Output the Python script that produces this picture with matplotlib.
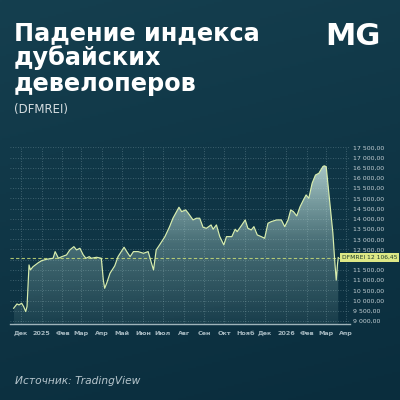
import numpy as np
import matplotlib
matplotlib.use("Agg")
import matplotlib.pyplot as plt
import matplotlib.dates as mdates
from matplotlib.patches import Polygon
from matplotlib.colors import LinearSegmentedColormap
import datetime as dt

# ---------------- data ----------------
dates = [
    "2024-11-20", "2024-11-25", "2024-11-28", "2024-12-02", "2024-12-05", "2024-12-08", "2024-12-10",
    "2024-12-13", "2024-12-15", "2024-12-19", "2024-12-27", "2025-01-01", "2025-01-08", "2025-01-18",
    "2025-01-21", "2025-01-26", "2025-01-31", "2025-02-07", "2025-02-12", "2025-02-18", "2025-02-22",
    "2025-02-27", "2025-03-04", "2025-03-08", "2025-03-13", "2025-03-16", "2025-03-24", "2025-03-31",
    "2025-04-03", "2025-04-05", "2025-04-08", "2025-04-13", "2025-04-20", "2025-04-25", "2025-05-04",
    "2025-05-08", "2025-05-13", "2025-05-18", "2025-05-25", "2025-06-02", "2025-06-09", "2025-06-14",
    "2025-06-17", "2025-06-21", "2025-06-26", "2025-07-04", "2025-07-11", "2025-07-16", "2025-07-25",
    "2025-07-29", "2025-08-04", "2025-08-08", "2025-08-15", "2025-08-20", "2025-08-25", "2025-08-30",
    "2025-09-04", "2025-09-11", "2025-09-14", "2025-09-19", "2025-09-24", "2025-09-30", "2025-10-04",
    "2025-10-12", "2025-10-17", "2025-10-20", "2025-10-27", "2025-11-01", "2025-11-05", "2025-11-10",
    "2025-11-14", "2025-11-19", "2025-11-25", "2025-11-30", "2025-12-05", "2025-12-10", "2025-12-18",
    "2025-12-25", "2025-12-30", "2026-01-04", "2026-01-08", "2026-01-12", "2026-01-17", "2026-01-22",
    "2026-01-27", "2026-01-31", "2026-02-04", "2026-02-09", "2026-02-14", "2026-02-19", "2026-02-22",
    "2026-02-25", "2026-02-27", "2026-03-02", "2026-03-04", "2026-03-08", "2026-03-12", "2026-03-15",
    "2026-03-17", "2026-03-19", "2026-03-20",
]
values = [
    9622, 9833, 9784, 9867, 9700, 9460, 9700,
    11744, 11500, 11660, 11857, 11955, 12020, 12070,
    12397, 12070, 12150, 12234, 12480, 12640, 12480,
    12560, 12234, 12070, 12150, 12070, 12120, 12070,
    11009, 10600, 10845, 11337, 11695, 12150, 12611,
    12397, 12150, 12397, 12397, 12315, 12397, 11827,
    11500, 12480, 12724, 13130, 13620, 14032, 14570,
    14355, 14440, 14277, 13950, 14032, 14032, 13590,
    13540, 13704, 13493, 13704, 13130, 12724, 13130,
    13130, 13493, 13375, 13704, 13949, 13540, 13460,
    13620, 13214, 13130, 13050, 13787, 13868, 13949,
    13949, 13620, 13949, 14440, 14355, 14145, 14600,
    14930, 15174, 15010, 15748, 16150, 16233, 16400,
    16560, 16600, 16560, 15900, 14600, 13300, 11827,
    11000, 11827, 12106.45,
]
month_ticks = ["2024-12-01", "2025-01-01", "2025-02-01", "2025-03-01", "2025-04-01", "2025-05-01",
               "2025-06-01", "2025-07-01", "2025-08-01", "2025-09-01", "2025-10-01", "2025-11-01",
               "2025-12-01", "2026-01-01", "2026-02-01", "2026-03-01", "2026-04-01"]
month_labels = ["Дек", "2025", "Фев", "Мар", "Апр", "Май", "Июн", "Июл", "Авг", "Сен", "Окт",
                "Нояб", "Дек", "2026", "Фев", "Мар", "Апр"]
y_ticks = list(range(9000, 17501, 500))
hidden_y_label = 12000  # covered by the last-value tag
last_value = 12106.45
ticker_name = "DFMREI"

# ---------------- figure ----------------
W, H = 400, 400
fig = plt.figure(figsize=(4, 4), dpi=100)

# background gradient
bg = fig.add_axes([0, 0, 1, 1])
bg.set_axis_off()
yy, xx = np.mgrid[0:1:200j, 0:1:200j]
c_top = np.array([0x15, 0x3f, 0x4f]) / 255
c_bot = np.array([0x0a, 0x2d, 0x3d]) / 255
t = (yy * 0.8 + xx * 0.2)
img = c_top[None, None, :] * (1 - t[..., None]) + c_bot[None, None, :] * t[..., None]
bg.imshow(img, extent=[0, 1, 0, 1], origin="upper", aspect="auto")
bg.set_xlim(0, 1); bg.set_ylim(0, 1)

def px(x, y):
    return x / W, 1 - y / H

# text
for txt, yb in [("Падение индекса", 40), ("дубайских", 65.5), ("девелоперов", 91)]:
    fig.text(*px(14, yb), txt, color="white", fontsize=17.3, fontweight="bold",
             family="DejaVu Sans", va="baseline", ha="left")
fig.text(*px(14, 113), "(DFMREI)", color="#d5dde0", fontsize=8.5, va="baseline", ha="left")
fig.text(*px(325, 45), "MG", color="white", fontsize=22, fontweight="bold", va="baseline", ha="left")
fig.text(*px(15, 384), "Источник: TradingView", color="#b7c6cd", fontsize=7.7, style="italic",
         va="baseline", ha="left")

# ---------------- chart axes ----------------
ymin, ymax = 8850, 17690
ax_left, ax_right = 10, 350
ax_bottom_px = 324
ax_top_px = ax_bottom_px - (ymax - ymin) * (173.5 / 8500)
ax = fig.add_axes([ax_left / W, 1 - ax_bottom_px / H, (ax_right - ax_left) / W,
                   (ax_bottom_px - ax_top_px) / H])
ax.set_facecolor("none")

xd = mdates.date2num([dt.datetime.strptime(d, "%Y-%m-%d") for d in dates])
xt = mdates.date2num([dt.datetime.strptime(d, "%Y-%m-%d") for d in month_ticks])
base = mdates.date2num(dt.datetime(2024, 12, 1))
ppd = 0.6693
xlim = (base - (21 - ax_left) / ppd, base + (ax_right - 21) / ppd)

# grid
for v in y_ticks:
    ax.axhline(v, color="#7d9ca6", lw=0.6, ls=(0, (1, 2)), alpha=0.55, zorder=0)
for v in xt:
    ax.axvline(v, ymin=0, ymax=(17500 - ymin) / (ymax - ymin), color="#7d9ca6", lw=0.6,
               ls=(0, (1, 2)), alpha=0.55, zorder=0)

# gradient fill
verts = [(xd[0], ymin)] + list(zip(xd, values)) + [(xd[-1], ymin)]
poly = Polygon(verts, closed=True, facecolor="none", edgecolor="none")
ax.add_patch(poly)
cmap = LinearSegmentedColormap.from_list(
    "fill", [(0.70, 0.86, 0.82, 0.08), (0.72, 0.87, 0.84, 0.34), (0.80, 0.91, 0.90, 0.82)])
grad = np.linspace(0, 1, 256).reshape(-1, 1)
im = ax.imshow(grad, extent=[xd[0], xd[-1], ymin, 16700], origin="lower", aspect="auto",
               cmap=cmap, zorder=1, interpolation="bilinear")
im.set_clip_path(poly)

ax.plot(xd, values, color="#d9eeae", lw=0.85, zorder=3, solid_joinstyle="round")

# last value line
ax.axhline(last_value, color="#c9dc78", lw=0.8, ls=(0, (3, 2)), alpha=0.85, zorder=2)

ax.set_xlim(*xlim)
ax.set_ylim(ymin, ymax)

ax.set_xticks(xt)
ax.set_xticklabels(month_labels, fontsize=4.6, color="#a5b8c0", fontweight="bold")
ax.set_yticks(y_ticks)
ax.set_yticklabels(["" if v == hidden_y_label else f"{v:,}".replace(",", " ") + ",00"
                    for v in y_ticks], fontsize=4.5, color="#c3cfd4")
ax.yaxis.tick_right()
ax.tick_params(axis="both", length=0)
ax.tick_params(axis="y", pad=2)
ax.tick_params(axis="x", pad=5)
for s in ["top", "left", "right"]:
    ax.spines[s].set_visible(False)
ax.spines["bottom"].set_color("#9fb3ba")
ax.spines["bottom"].set_linewidth(1.0)

# last-value tag
lbl = f"{ticker_name} " + f"{last_value:,.2f}".replace(",", " ").replace(".", ",")
ax.annotate(lbl, xy=(1.0, last_value), xycoords=("axes fraction", "data"),
            xytext=(-6, 0), textcoords="offset points", fontsize=4.3, color="#1d3a2a",
            va="center", ha="left",
            bbox=dict(boxstyle="square,pad=0.3", fc="#dde886", ec="none"), zorder=5,
            annotation_clip=False)

fig.savefig("out.png", dpi=100)
